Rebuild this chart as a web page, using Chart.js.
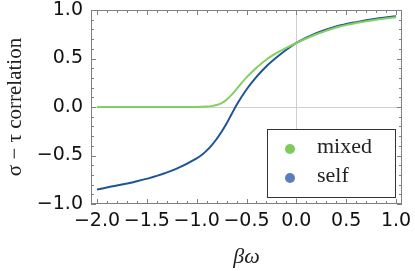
<!DOCTYPE html>
<html>
<head>
<meta charset="utf-8">
<script src="https://cdn.jsdelivr.net/npm/chart.js@4"></script>
<style>
  html, body { margin: 0; padding: 0; background: #fff; }
  #wrap { width: 415px; height: 271px; }
</style>
</head>
<body>
<div id="wrap"><canvas id="myChart"></canvas></div>
<script>
// values
const betaOmega = [-2.0, -1.8, -1.6, -1.4, -1.2, -1.0, -0.95, -0.9, -0.85, -0.8, -0.75, -0.7, -0.65, -0.6, -0.5, -0.4, -0.3, -0.2, -0.1, 0.0, 0.2, 0.4, 0.6, 0.8, 1.0];
const mixed     = [0.0, 0.0, 0.0, 0.0, 0.0, 0.001, 0.002, 0.004, 0.009, 0.02, 0.04, 0.075, 0.125, 0.185, 0.305, 0.405, 0.49, 0.555, 0.61, 0.66, 0.75, 0.82, 0.865, 0.9, 0.925];
const self      = [-0.85, -0.81, -0.765, -0.71, -0.635, -0.53, -0.495, -0.45, -0.395, -0.33, -0.255, -0.17, -0.075, 0.02, 0.18, 0.31, 0.42, 0.51, 0.59, 0.66, 0.76, 0.83, 0.875, 0.91, 0.935];
const seriesNames = ['mixed', 'self'];
const xTicks = [-2.0, -1.5, -1.0, -0.5, 0.0, 0.5, 1.0];
const yTicks = [-1.0, -0.5, 0.0, 0.5, 1.0];

const pts = (ys) => betaOmega.map((x, i) => ({ x: x, y: ys[i] }));

const tickFont = { family: 'DejaVu Sans', size: 19 };
const serif = 'Liberation Serif';

// frame with inward ticks on all four sides
const frame = {
  id: 'frame',
  afterDatasetsDraw(chart) {
    const c = chart.ctx, a = chart.chartArea;
    const sx = chart.scales.x, sy = chart.scales.y;
    c.save();
    c.strokeStyle = '#808080';
    c.lineWidth = 1;
    c.strokeRect(a.left + 0.5, a.top + 0.5, a.right - a.left - 1, a.bottom - a.top - 1);
    c.beginPath();
    for (let i = -21; i <= 10; i++) {
      const v = i / 10;
      if (v < sx.min || v > sx.max) continue;
      const px = Math.round(sx.getPixelForValue(v)) + 0.5;
      const len = i % 5 === 0 ? 5 : 3;
      c.moveTo(px, a.bottom); c.lineTo(px, a.bottom - len);
      c.moveTo(px, a.top); c.lineTo(px, a.top + len);
    }
    for (let i = -10; i <= 10; i++) {
      const v = i / 10;
      const py = Math.round(sy.getPixelForValue(v)) + 0.5;
      const len = i % 5 === 0 ? 5 : 3;
      c.moveTo(a.left, py); c.lineTo(a.left + len, py);
      c.moveTo(a.right, py); c.lineTo(a.right - len, py);
    }
    c.stroke();
    c.restore();
  }
};

// legend box in the lower right corner
const legendBox = {
  id: 'legendBox',
  afterDraw(chart) {
    const c = chart.ctx, a = chart.chartArea;
    const w = 128, h = 68;
    const left = a.right - 7 - w, top = a.bottom - 7 - h;
    const dots = ['#7dcb5c', '#5b7dbb'];
    c.save();
    c.fillStyle = '#fff';
    c.fillRect(left, top, w, h);
    c.strokeStyle = '#333';
    c.lineWidth = 1;
    c.strokeRect(left + 0.5, top + 0.5, w, h);
    c.font = '22px "' + serif + '"';
    c.textBaseline = 'middle';
    seriesNames.forEach((name, i) => {
      const cy = top + 20 + i * 29;
      c.fillStyle = dots[i];
      c.beginPath();
      c.arc(left + 23, cy, 5, 0, Math.PI * 2);
      c.fill();
      c.fillStyle = '#222';
      c.fillText(name, left + 50, cy - 2);
    });
    c.restore();
  }
};

const ctx = document.getElementById('myChart');

new Chart(ctx, {
  type: 'line',
  data: {
    datasets: [
      { label: seriesNames[1], data: pts(self), borderColor: '#1f5591', borderWidth: 2, order: 2 },
      { label: seriesNames[0], data: pts(mixed), borderColor: '#82cf62', borderWidth: 2, order: 1 }
    ]
  },
  plugins: [frame, legendBox],
  options: {
    responsive: true,
    maintainAspectRatio: false,
    animation: false,
    events: [],
    layout: { padding: { top: 10, right: 13 } },
    elements: {
      point: { radius: 0 },
      line: { cubicInterpolationMode: 'monotone', fill: false }
    },
    scales: {
      x: {
        type: 'linear',
        min: -2.06,
        max: 1.06,
        afterFit: (s) => { s.height = 67; s.paddingLeft = 0; s.paddingRight = 0; },
        afterBuildTicks: (s) => { s.ticks = xTicks.map(v => ({ value: v })); },
        ticks: {
          font: tickFont,
          color: '#111',
          padding: 6,
          maxRotation: 0,
          autoSkip: false,
          callback: (v) => v.toFixed(1).replace('-', '\u2212')
        },
        grid: {
          drawTicks: false,
          color: (c) => c.tick && c.tick.value === 0 ? '#cfcfcf' : 'rgba(0,0,0,0)'
        },
        border: { display: false },
        title: {
          display: true,
          text: 'βω',
          font: { family: serif, size: 22, style: 'italic' },
          color: '#222',
          padding: { top: 0, bottom: 1 }
        }
      },
      y: {
        min: -1,
        max: 1,
        afterFit: (s) => { s.width = 91; s.paddingTop = 0; s.paddingBottom = 0; },
        afterBuildTicks: (s) => { s.ticks = yTicks.map(v => ({ value: v })); },
        ticks: {
          font: tickFont,
          color: '#111',
          padding: 8,
          callback: (v) => v.toFixed(1).replace('-', '\u2212')
        },
        grid: {
          drawTicks: false,
          color: (c) => c.tick && c.tick.value === 0 ? '#cfcfcf' : 'rgba(0,0,0,0)'
        },
        border: { display: false },
        title: {
          display: true,
          text: 'σ − τ correlation',
          font: { family: serif, size: 21 },
          color: '#222',
          padding: { top: 3, bottom: 0 }
        }
      }
    },
    plugins: {
      legend: { display: false },
      tooltip: { enabled: false }
    }
  }
});
</script>
</body>
</html>
